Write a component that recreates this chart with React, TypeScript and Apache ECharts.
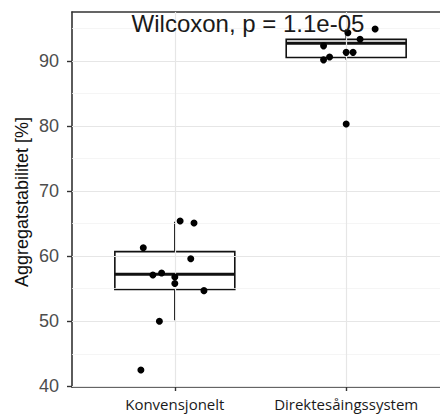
import React, { useEffect, useRef } from "react";
import * as echarts from "echarts";

const categories = ["Konvensjonelt", "Direktesåingssystem"];
// box stats: [groupIndex, lowerWhisker, q1, median, q3, upperWhisker]
const boxStats = [
  [0, 50.15, 54.9, 57.2, 60.7, 65.3],
  [1, 90.15, 90.5, 92.7, 93.3, 94.9],
];
// jittered observations: horizontal offset from category centre, value
const konvJitter = [-0.184, 0.031, 0.112, 0.093, -0.128, -0.077, 0.0, 0.0, 0.17, -0.09, -0.198];
const konvValues = [61.3, 65.4, 65.1, 59.6, 57.1, 57.4, 56.8, 55.8, 54.7, 50.0, 42.5];
const direktJitter = [0.169, 0.01, 0.081, -0.132, -0.132, -0.097, 0.0, 0.04, 0.0];
const direktValues = [94.9, 94.3, 93.3, 92.3, 90.15, 90.6, 91.3, 91.3, 80.3];
const yTicks = [40, 50, 60, 70, 80, 90];
const yMinor = [45, 55, 65, 75, 85, 95];
const titleText = "Wilcoxon, p = 1.1e-05";
const yTitle = "Aggregatstabilitet [%]";

export default function App() {
  const ref = useRef<HTMLDivElement>(null);
  useEffect(() => {
    if (!ref.current) return;
    const chart = echarts.init(ref.current, null, { renderer: "svg" });
    const points: number[][] = [];
    konvJitter.forEach((j, i) => points.push([0 + j, konvValues[i]]));
    direktJitter.forEach((j, i) => points.push([1 + j, direktValues[i]]));

    const gridData: any[] = [];
    yMinor.forEach((v) =>
      gridData.push({ yAxis: v, lineStyle: { color: "#f3f3f3", width: 0.8, type: "solid" } })
    );
    yTicks.forEach((v) =>
      gridData.push({ yAxis: v, lineStyle: { color: "#e6e6e6", width: 1.2, type: "solid" } })
    );
    categories.forEach((_, i) =>
      gridData.push({ xAxis: i, lineStyle: { color: "#e6e6e6", width: 1.2, type: "solid" } })
    );

    chart.setOption({
      animation: false,
      grid: { left: 72, right: -9, top: 12, bottom: 29, outerBoundsMode: "none", containLabel: false },
      xAxis: [
        {
          type: "value",
          min: -0.6,
          max: 1.6,
          axisLine: { show: true, onZero: false, lineStyle: { color: "#333333", width: 1.6 } },
          axisTick: { show: true, customValues: [0, 1], length: 4, lineStyle: { color: "#333333", width: 1.4 } },
          axisLabel: {
            show: true,
            customValues: [0, 1],
            formatter: (v: number) => categories[Math.round(v)] ?? "",
            color: "#1a1a1a",
            fontSize: 15,
            fontFamily: "Open Sans",
            margin: 9,
          },
          splitLine: { show: false },
        },
        {
          type: "value",
          position: "top",
          min: -0.6,
          max: 1.6,
          axisLine: { show: true, onZero: false, lineStyle: { color: "#333333", width: 1.6 } },
          axisTick: { show: false },
          axisLabel: { show: false },
          splitLine: { show: false },
        },
      ],
      yAxis: {
        type: "value",
        min: 39.9,
        max: 97.5,
        axisLine: { show: true, onZero: false, lineStyle: { color: "#333333", width: 1.6 } },
        axisTick: { show: true, customValues: yTicks, length: 5, lineStyle: { color: "#333333", width: 1.4 } },
        axisLabel: {
          show: true,
          customValues: yTicks,
          color: "#4d4d4d",
          fontSize: 18,
          fontFamily: "Liberation Sans",
          margin: 13,
        },
        splitLine: { show: false },
      },
      series: [
        {
          type: "scatter",
          data: [],
          silent: true,
          markLine: {
            silent: true,
            symbol: "none",
            label: { show: false },
            data: gridData,
          },
          z: 1,
        },
        {
          type: "custom",
          z: 2,
          data: boxStats,
          encode: { x: 0, y: [1, 2, 3, 4, 5] },
          renderItem: (params: any, api: any) => {
            const x = api.value(0);
            const lo = api.value(1);
            const q1 = api.value(2);
            const med = api.value(3);
            const q3 = api.value(4);
            const hi = api.value(5);
            const hw = 0.35;
            const pL = api.coord([x - hw, q3]);
            const pR = api.coord([x + hw, q1]);
            const pMedL = api.coord([x - hw, med]);
            const pMedR = api.coord([x + hw, med]);
            const pHi = api.coord([x, hi]);
            const pQ3 = api.coord([x, q3]);
            const pLo = api.coord([x, lo]);
            const pQ1 = api.coord([x, q1]);
            const stroke = { stroke: "#111111", lineWidth: 1.6 };
            return {
              type: "group",
              children: [
                { type: "line", shape: { x1: pHi[0], y1: pHi[1], x2: pQ3[0], y2: pQ3[1] }, style: stroke },
                { type: "line", shape: { x1: pLo[0], y1: pLo[1], x2: pQ1[0], y2: pQ1[1] }, style: stroke },
                {
                  type: "rect",
                  shape: { x: pL[0], y: pL[1], width: pR[0] - pL[0], height: pR[1] - pL[1] },
                  style: { fill: "#ffffff", stroke: "#111111", lineWidth: 1.6 },
                },
                {
                  type: "line",
                  shape: { x1: pMedL[0], y1: pMedL[1], x2: pMedR[0], y2: pMedR[1] },
                  style: { stroke: "#111111", lineWidth: 3 },
                },
              ],
            };
          },
        },
        {
          type: "scatter",
          z: 5,
          data: points,
          symbolSize: 7,
          itemStyle: { color: "#000000", opacity: 1 },
        },
      ],
      graphic: [
        {
          type: "text",
          x: 248,
          y: 23,
          z: 10,
          style: {
            text: titleText,
            align: "center",
            verticalAlign: "middle",
            fontSize: 24,
            fontFamily: "Liberation Sans",
            fill: "#1a1a1a",
          },
        },
        {
          type: "text",
          x: 22,
          y: 202,
          rotation: Math.PI / 2,
          style: {
            text: yTitle,
            align: "center",
            verticalAlign: "middle",
            fontSize: 18,
            fontFamily: "Liberation Sans",
            fill: "#111111",
          },
        },
      ],
    });
    return () => chart.dispose();
  }, []);
  return (
    <div
      ref={ref}
      style={{ position: "fixed", left: 0, top: 0, width: 440, height: 416, background: "#ffffff" }}
    />
  );
}
